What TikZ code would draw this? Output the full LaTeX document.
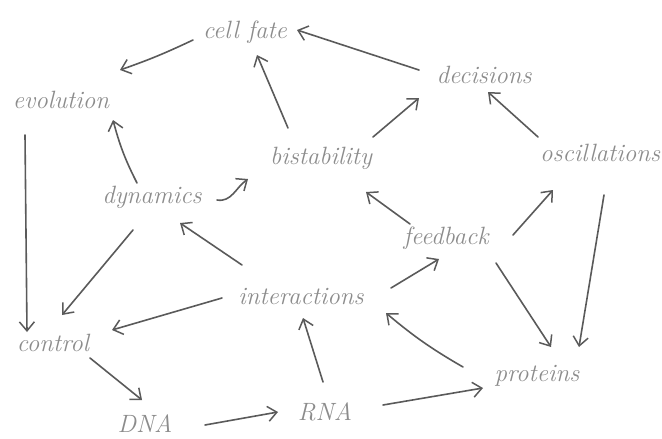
\documentclass[tikz,border=0pt]{standalone}
\usepackage{tikz}
\usetikzlibrary{arrows.meta}

\definecolor{inkword}{HTML}{8C8C8C}
\definecolor{inkline}{HTML}{5A5A5A}

\tikzset{
    word/.style={text=inkword, font=\fontsize{25}{27}\selectfont\itshape, inner sep=0pt},
    link/.style={draw=inkline, line width=1.6pt, line cap=round,
        -{Straight Barb[length=9pt,width=15pt,line width=1.5pt]}}
}

\begin{document}
\begin{tikzpicture}[x=1pt,y=-1pt]
    \useasboundingbox (0,0) rectangle (662,439);

    % draw nodes
    \foreach \n/\x/\y/\t in {cellfate/245/32/cell fate, decisions/484/75/decisions,
        evolution/61/100/evolution, bistability/321/158/bistability,
        oscillations/600/153/oscillations, dynamics/152/197/dynamics,
        feedback/446/238/feedback, interactions/301/296/interactions,
        control/53/343/control, proteins/537/376/proteins,
        dna/145/424/DNA, rna/325/412/RNA}
    \node[word] (\n) at (\x,\y) {\t};

    % draw arrows
    \draw[link] ([shift={(-52,8)}]cellfate.center) to[bend left=3] ([shift={(59,-30)}]evolution.center);
    \draw[link] ([shift={(-65,-5)}]decisions.center) -- ([shift={(52,-2)}]cellfate.center);
    \draw[link] ([shift={(-33,-30)}]bistability.center) -- ([shift={(12,23)}]cellfate.center);
    \draw[link] ([shift={(52,-21)}]bistability.center) -- ([shift={(-65,23)}]decisions.center);
    \draw[link] ([shift={(-62,-16)}]oscillations.center) -- ([shift={(4,17)}]decisions.center);
    \draw[link] ([shift={(-15,-14)}]dynamics.center) to[bend left=6] ([shift={(52,20)}]evolution.center);
    \draw[link] ([shift={(65,3)}]dynamics.center) to[out=-10,in=215] ([shift={(-73,21)}]bistability.center);
    \draw[link] ([shift={(-36,35)}]evolution.center) -- ([shift={(-26,-11)}]control.center);
    \draw[link] ([shift={(-19,33)}]dynamics.center) -- ([shift={(9,-28)}]control.center);
    \draw[link] ([shift={(-59,-31)}]interactions.center) -- ([shift={(28,26)}]dynamics.center);
    \draw[link] ([shift={(-79,2)}]interactions.center) -- ([shift={(59,-13)}]control.center);
    \draw[link] ([shift={(90,-8)}]interactions.center) -- ([shift={(-7,21)}]feedback.center);
    \draw[link] ([shift={(-36,-14)}]feedback.center) -- ([shift={(45,34)}]bistability.center);
    \draw[link] ([shift={(67,-3)}]feedback.center) -- ([shift={(-47,37)}]oscillations.center);
    \draw[link] ([shift={(50,25)}]feedback.center) -- ([shift={(14,-29)}]proteins.center);
    \draw[link] ([shift={(4,42)}]oscillations.center) -- ([shift={(42,-29)}]proteins.center);
    \draw[link] ([shift={(-74,-9)}]proteins.center) to[bend left=5] ([shift={(85,17)}]interactions.center);
    \draw[link] ([shift={(-2,-30)}]rna.center) -- ([shift={(2,22)}]interactions.center);
    \draw[link] ([shift={(58,-7)}]rna.center) -- ([shift={(-54,12)}]proteins.center);
    \draw[link] ([shift={(37,15)}]control.center) -- ([shift={(-3,-24)}]dna.center);
    \draw[link] ([shift={(60,1)}]dna.center) -- ([shift={(-47,0)}]rna.center);
\end{tikzpicture}
\end{document}
